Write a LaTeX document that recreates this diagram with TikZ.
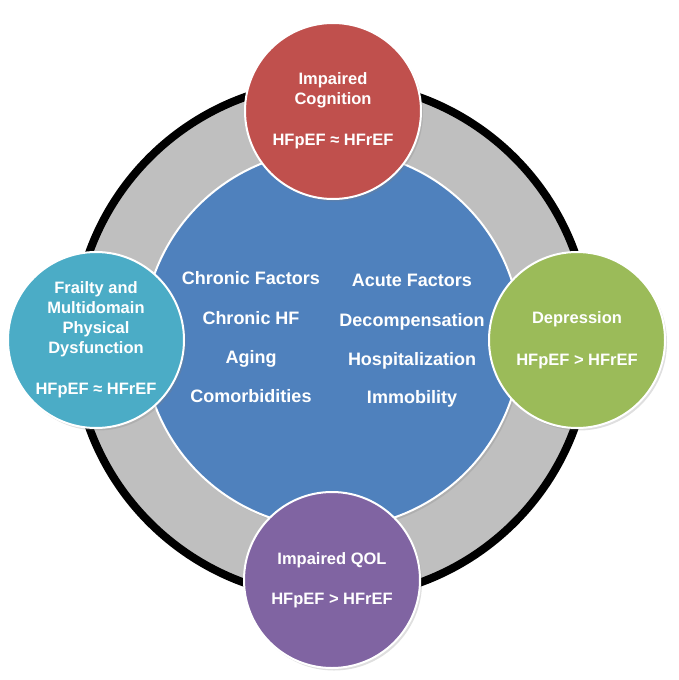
\documentclass[tikz,border=0pt]{standalone}
\usepackage{fontspec}
\setmainfont{Liberation Sans}
\usetikzlibrary{shadows}
\definecolor{cred}{HTML}{C0504D}
\definecolor{cteal}{HTML}{4BACC6}
\definecolor{cgreen}{HTML}{9BBB59}
\definecolor{cpurple}{HTML}{8064A2}
\definecolor{cblue}{HTML}{4F81BD}
\definecolor{cgray}{HTML}{BFBFBF}
\begin{document}
\begin{tikzpicture}[x=1pt,y=-1pt,
  softshadow/.style={drop shadow={opacity=0.25,shadow xshift=2pt,shadow yshift=-2.5pt}},
  sat/.style={circle, draw=white, line width=2pt, minimum size=176pt, inner sep=0pt,
    text=white, align=center, font=\bfseries\fontsize{16.5}{20}\selectfont, softshadow},
  factor/.style={text=white, font=\bfseries\fontsize{18}{20}\selectfont, anchor=base, inner sep=0pt}]
\useasboundingbox (0,0) rectangle (679,680);
% outer ring
\node[circle, fill=cgray, draw=black, line width=8pt, minimum size=516pt, inner sep=0pt] (ring) at (332,340) {};
% central circle
\node[circle, fill=cblue, draw=white, line width=2pt, minimum size=378pt, inner sep=0pt, softshadow] (core) at (332,339) {};
% factors
\node[factor] (cf) at (251,284.5) {Chronic Factors};
\node[factor] (chf) at (251,324.5) {Chronic HF};
\node[factor] (ag) at (251,363.5) {Aging};
\node[factor] (com) at (251,402.5) {Comorbidities};
\node[factor] (af) at (412,286.5) {Acute Factors};
\node[factor] (dec) at (412,326.5) {Decompensation};
\node[factor] (hos) at (412,365.5) {Hospitalization};
\node[factor] (imm) at (412,403.5) {Immobility};
% satellites
\node[sat, fill=cred] (cog) at (333,111) {Impaired\\Cognition\\[21pt]HFpEF ≈ HFrEF};
\node[sat, fill=cteal] (frail) at (96,340) {Frailty and\\Multidomain\\Physical\\Dysfunction\\[21pt]HFpEF ≈ HFrEF};
\node[sat, fill=cgreen] (dep) at (577,340) {Depression\\[22pt]HFpEF > HFrEF};
\node[sat, fill=cpurple] (qol) at (332,580) {Impaired QOL\\[20pt]HFpEF > HFrEF};
\end{tikzpicture}
\end{document}
